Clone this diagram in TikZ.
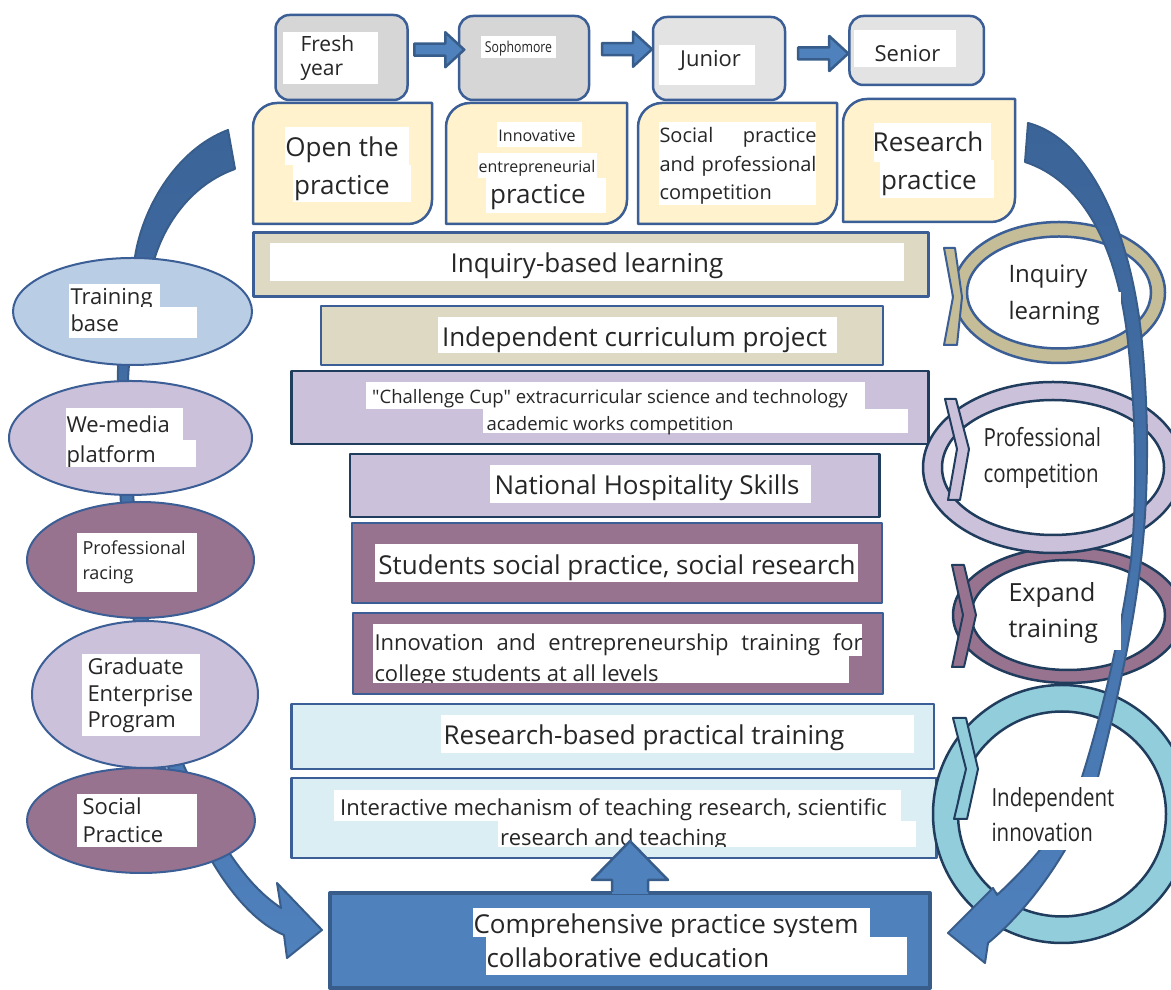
\documentclass[tikz,border=0pt]{standalone}
\usepackage{fontspec}
\setmainfont{Open Sans}
\newfontfamily\narrowsans[FakeStretch=0.82]{Open Sans}
\newfontfamily\plainsans{Open Sans}
\usepackage{xcolor}
\usetikzlibrary{shapes.geometric,calc}

\definecolor{ink}{HTML}{262626}
\definecolor{edgeblue}{HTML}{3A5E95}
\definecolor{navy}{HTML}{213D5E}
\definecolor{greyA}{HTML}{D6D6D6}
\definecolor{greyB}{HTML}{E3E3E3}
\definecolor{cream}{HTML}{FFF2CC}
\definecolor{khaki}{HTML}{DDD9C3}
\definecolor{khakiring}{HTML}{C4BD97}
\definecolor{lilac}{HTML}{CCC1DA}
\definecolor{mauve}{HTML}{98738F}
\definecolor{sky}{HTML}{B9CDE5}
\definecolor{pale}{HTML}{DAEEF3}
\definecolor{cyanring}{HTML}{92CDDC}
\definecolor{arrowfill}{HTML}{4F81BD}
\definecolor{arrowedge}{HTML}{385D8A}
\definecolor{banddark}{HTML}{3B6498}

\newcommand\txtsize[1]{\fontsize{#1bp}{#1bp}\selectfont}
\newcommand\dquote{{\plainsans"}}

\begin{document}
\begin{tikzpicture}[line join=round,
  yearbox/.style={draw=edgeblue, line width=2.5bp, rounded corners=14bp, inner sep=0pt},
  stage/.style={fill=cream, draw=edgeblue, line width=2.5bp},
  bar/.style={draw=edgeblue, line width=2.5bp, inner sep=0pt},
  darkbar/.style={bar, draw=navy},
  oval/.style={ellipse, draw=edgeblue, line width=2bp, inner sep=0pt},
  ring/.style={ellipse, draw=navy, line width=2.5bp, inner sep=0pt},
  chev/.style={draw=navy, line width=2bp},
  lbl/.style={inner sep=0pt, text=ink, anchor=base},
  lblw/.style={lbl, anchor=base west},
  blockarrow/.style={fill=arrowfill, draw=arrowedge, line width=2.5bp},
  band/.style={draw=arrowedge, line width=2bp, top color=banddark, bottom color=arrowfill}]
  \pgfsetlinewidth{1bp}
  \useasboundingbox (0bp,0bp) rectangle (1171bp,990bp);
  \clip (0bp,0bp) rectangle (1171bp,990bp);
%%
  % Edge: left return band, runs behind the ovals
  \path[band] (228bp,860bp) .. controls (175bp,840bp) and (142bp,780bp) .. (135bp,733bp)
    .. controls (128bp,690bp) and (117bp,650bp) .. (118bp,610bp)
    .. controls (118bp,540bp) and (116bp,390bp) .. (168bp,224bp)
    .. controls (185bp,175bp) and (200bp,145bp) .. (213bp,127bp)
    .. controls (235bp,90bp) and (260bp,65bp) .. (284bp,55bp)
    -- (287bp,32bp) -- (322bp,60bp) -- (277bp,107bp) -- (281bp,82bp)
    .. controls (262bp,95bp) and (248bp,110bp) .. (232bp,133bp)
    .. controls (215bp,160bp) and (195bp,200bp) .. (184bp,224bp)
    .. controls (140bp,340bp) and (128bp,530bp) .. (128bp,610bp)
    .. controls (130bp,660bp) and (145bp,700bp) .. (155bp,733bp)
    .. controls (165bp,765bp) and (190bp,805bp) .. (235bp,821bp)
    -- cycle;
  % Node: train
  \node[oval, fill=sky, minimum width=239bp, minimum height=107bp] (train) at (132.5bp,678.5bp) {};
  \fill[white] (69bp,706bp) rectangle (160bp,683bp);
  \node[lblw, font=\txtsize{22}] (train-l1) at (70bp,685bp) {Training};
  \fill[white] (69bp,683bp) rectangle (197bp,652bp);
  \node[lblw, font=\txtsize{22}] (train-l2) at (70bp,658bp) {base};
  % Node: media
  \node[oval, fill=lilac, minimum width=243bp, minimum height=114bp] (media) at (130.5bp,552bp) {};
  \fill[white] (66bp,582bp) rectangle (183bp,550bp);
  \node[lblw, font=\txtsize{22}] (media-l1) at (66bp,557bp) {We-media};
\begin{scope}
  \clip (66bp,550bp) rectangle (196bp,523bp);
  \fill[white] (66bp,550bp) rectangle (196bp,523bp);
  \node[lblw, font=\txtsize{22}] (media-l2) at (66bp,527bp) {platform};
\end{scope}
  % Node: racing
  \node[oval, fill=mauve, minimum width=227bp, minimum height=116bp] (racing) at (140.5bp,430bp) {};
  \fill[white] (77bp,457bp) rectangle (197bp,398bp);
  \node[lblw, font=\txtsize{18}] (racing-l1) at (82bp,435bp) {Professional};
  \node[lblw, font=\txtsize{18}] (racing-l2) at (82bp,410bp) {racing};
  % Node: grad
  \node[oval, fill=lilac, minimum width=226bp, minimum height=147bp] (grad) at (145bp,295.5bp) {};
  \fill[white] (82bp,336bp) rectangle (200bp,254bp);
  \node[lblw, font=\txtsize{22}] (grad-l1) at (87bp,315bp) {Graduate};
  \node[lblw, font=\txtsize{22}] (grad-l2) at (87bp,288bp) {Enterprise};
  \node[lblw, font=\txtsize{22}] (grad-l3) at (87bp,262bp) {Program};
  % Node: socprac
  \node[oval, fill=mauve, minimum width=228bp, minimum height=105bp] (socprac) at (141bp,169.5bp) {};
  \fill[white] (77bp,196bp) rectangle (197bp,143bp);
  \node[lblw, font=\txtsize{22}] (socprac-l1) at (82bp,175bp) {Social};
  \node[lblw, font=\txtsize{22}] (socprac-l2) at (82bp,147bp) {Practice};
%
  % Stage boxes under the years
  \filldraw[stage] (253bp,766bp) -- (253bp,863bp) arc[start angle=180,end angle=90,radius=24bp]
    -- (432bp,887bp) -- (432bp,790bp) arc[start angle=0,end angle=-90,radius=24bp] -- cycle;
  \filldraw[stage] (446bp,766bp) -- (446bp,863bp) arc[start angle=180,end angle=90,radius=24bp]
    -- (627bp,887bp) -- (627bp,790bp) arc[start angle=0,end angle=-90,radius=24bp] -- cycle;
  \filldraw[stage] (638bp,766bp) -- (638bp,863bp) arc[start angle=180,end angle=90,radius=24bp]
    -- (837bp,887bp) -- (837bp,790bp) arc[start angle=0,end angle=-90,radius=24bp] -- cycle;
  \filldraw[stage] (843bp,768bp) -- (843bp,867bp) arc[start angle=180,end angle=90,radius=24bp]
    -- (1015bp,891bp) -- (1015bp,792bp) arc[start angle=0,end angle=-90,radius=24bp] -- cycle;
  \fill[white] (285bp,863bp) rectangle (409bp,825bp);
  \node[lbl, font=\txtsize{26}] (open-l1) at (342bp,833bp) {Open the};
  \fill[white] (293bp,825bp) rectangle (411bp,788bp);
  \node[lbl, font=\txtsize{26}] (open-l2) at (342bp,795bp) {practice};
  \fill[white] (497bp,868bp) rectangle (582bp,843bp);
  \node[lbl, font=\txtsize{16}] (innov-l1) at (537bp,848bp) {Innovative};
  \fill[white] (478bp,837bp) rectangle (597bp,812bp);
  \node[lbl, font=\txtsize{16}] (innov-l2) at (537bp,817bp) {entrepreneurial};
  \fill[white] (486bp,812bp) rectangle (606bp,777bp);
  \node[lbl, font=\txtsize{26}] (innov-l3) at (538bp,786bp) {practice};
  \fill[white] (659bp,868bp) rectangle (816bp,785bp);
  \node[lblw, font=\txtsize{20}] (social-l1) at (659bp,847bp) {\makebox[157bp][s]{Social practice}};
  \node[lblw, font=\txtsize{20}] (social-l2) at (659bp,818bp) {\makebox[157bp][s]{and professional}};
  \node[lblw, font=\txtsize{20}] (social-l3) at (659bp,790bp) {competition};
  \fill[white] (874bp,867bp) rectangle (991bp,828bp);
  \node[lbl, font=\txtsize{26}] (research-l1) at (928bp,838bp) {Research};
  \fill[white] (880bp,830bp) rectangle (994bp,792bp);
  \node[lbl, font=\txtsize{26}] (research-l2) at (929bp,800bp) {practice};
%
  % Node: fresh, soph, junior, senior
  \node[yearbox, fill=greyA, minimum width=132bp, minimum height=85bp] (fresh) at (341.5bp,932.5bp) {};
  \node[yearbox, fill=greyA, minimum width=130bp, minimum height=84bp] (soph) at (524bp,932bp) {};
  \node[yearbox, fill=greyB, minimum width=132bp, minimum height=83bp] (junior) at (719bp,931.5bp) {};
  \node[yearbox, fill=greyB, minimum width=134.5bp, minimum height=69bp] (senior) at (916.7bp,939.5bp) {};
  \fill[white] (283bp,958bp) rectangle (378bp,906bp);
  \node[lblw, font=\txtsize{21}] (fresh-l1) at (300bp,938bp) {Fresh};
  \node[lblw, font=\txtsize{21}] (fresh-l2) at (300bp,914bp) {year};
  \fill[white] (481bp,954bp) rectangle (556bp,932bp);
  \node[lbl, font=\narrowsans\txtsize{15}] (soph-l) at (518.5bp,937bp) {Sophomore};
  \fill[white] (659bp,945bp) rectangle (755bp,905bp);
  \node[lbl, font=\txtsize{22}] (junior-l) at (710.5bp,923bp) {Junior};
  \fill[white] (854bp,960bp) rectangle (956bp,923bp);
  \node[lbl, font=\txtsize{22}] (senior-l) at (907.5bp,928bp) {Senior};
  % Edge: fresh -> soph -> junior -> senior
  \foreach \a/\b/\dy in {fresh/soph/8bp, soph/junior/9bp, junior/senior/1bp}
    \filldraw[blockarrow] ($(\a.east)!0.5!(\b.west)+(6bp,\dy)$) ++(-25bp,-6bp) -- ++(31bp,0)
      -- ++(0,-11.5bp) -- ++(19bp,17.5bp) -- ++(-19bp,17.5bp) -- ++(0,-11.5bp) -- ++(-31bp,0) -- cycle;
%
  % Node: inquirybar
  \node[bar, fill=khaki, minimum width=675bp, minimum height=64bp] (inquirybar) at (591bp,725.3bp) {};
  \fill[white] (270bp,747bp) rectangle (904bp,709bp);
  \node[lbl, font=\txtsize{26}] (inquirybar-l) at (587bp,717bp) {Inquiry-based learning};
  % Node: curricbar
  \node[bar, fill=khaki, minimum width=562bp, minimum height=59bp] (curricbar) at (602bp,654.5bp) {};
  \fill[white] (438bp,673bp) rectangle (837bp,637bp);
  \node[lbl, font=\txtsize{26}] (curricbar-l) at (634.5bp,643bp) {Independent curriculum project};
  % Node: cupbar
  \node[darkbar, fill=lilac, minimum width=637bp, minimum height=73bp] (cupbar) at (610bp,582.5bp) {};
  \fill[white] (366bp,608bp) rectangle (865bp,581bp);
  \node[lbl, font=\txtsize{18.5}] (cupbar-l1) at (610bp,586bp) {\dquote Challenge Cup\dquote{} extracurricular science and technology};
  \fill[white] (483bp,581bp) rectangle (908bp,557bp);
  \node[lbl, font=\txtsize{18.5}] (cupbar-l2) at (610bp,559bp) {academic works competition};
  % Node: hospbar
  \node[darkbar, fill=lilac, minimum width=529.5bp, minimum height=63bp] (hospbar) at (614.75bp,504.5bp) {};
  \fill[white] (490bp,525bp) rectangle (811bp,487bp);
  \node[lbl, font=\txtsize{26}] (hospbar-l) at (647bp,495bp) {National Hospitality Skills};
  % Node: fieldbar
  \node[bar, fill=mauve, minimum width=530bp, minimum height=80bp] (fieldbar) at (617bp,427bp) {};
  \fill[white] (375bp,446bp) rectangle (858bp,408bp);
  \node[lbl, font=\txtsize{26}] (fieldbar-l) at (617bp,415bp) {Students social practice, social research};
  % Node: startupbar
  \node[bar, fill=mauve, minimum width=530bp, minimum height=81bp] (startupbar) at (617.9bp,336.5bp) {};
  \fill[white] (373bp,366bp) rectangle (862bp,334bp);
  \node[lblw, font=\txtsize{22}] (startupbar-l1) at (374bp,339bp) {\makebox[488bp][s]{Innovation and entrepreneurship training for}};
\begin{scope}
  \clip (373bp,334bp) rectangle (849bp,307bp);
  \fill[white] (373bp,334bp) rectangle (849bp,307bp);
  \node[lblw, font=\txtsize{22}] (startupbar-l2) at (374bp,308bp) {college students at all levels};
\end{scope}
  % Node: trainbar
  \node[bar, fill=pale, minimum width=642.5bp, minimum height=65bp] (trainbar) at (612.75bp,253.5bp) {};
  \fill[white] (441bp,275bp) rectangle (914bp,237bp);
  \node[lbl, font=\txtsize{26}] (trainbar-l) at (644bp,245bp) {Research-based practical training};
  % Node: linkbar
  \node[bar, fill=pale, minimum width=645bp, minimum height=80bp] (linkbar) at (614bp,172bp) {};
  \fill[white] (334bp,200bp) rectangle (901bp,169bp);
  \node[lbl, font=\txtsize{22}] (linkbar-l1) at (613.5bp,174bp) {Interactive mechanism of teaching research, scientific};
\begin{scope}
  \clip (498bp,169bp) rectangle (916bp,143bp);
  \fill[white] (498bp,169bp) rectangle (916bp,143bp);
  \node[lbl, font=\txtsize{22}] (linkbar-l2) at (613.5bp,144bp) {research and teaching};
\end{scope}
  % Node: compbox
  \node[bar, fill=arrowfill, draw=arrowedge, line width=4bp, minimum width=600bp, minimum height=95bp] (compbox) at (630bp,49.5bp) {};
  \fill[white] (473bp,82bp) rectangle (870bp,53bp);
  \node[lblw, font=\txtsize{26}] (compbox-l1) at (473bp,56bp) {Comprehensive practice system};
  \fill[white] (486bp,53bp) rectangle (907bp,15bp);
  \node[lblw, font=\txtsize{26}] (compbox-l2) at (486bp,23bp) {collaborative education};
  % Edge: compbox -> linkbar
  \coordinate (upfoot) at (compbox.north);
  \fill[arrowfill] (upfoot) ++(-18bp,-3bp) -- ++(0,14bp) -- ++(-20bp,0) -- ++(38bp,39bp)
    -- ++(38bp,-39bp) -- ++(-20bp,0) -- ++(0,-14bp) -- cycle;
  \draw[arrowedge, line width=2.5bp] (upfoot) ++(-18bp,-1bp) -- ++(0,12bp) -- ++(-20bp,0)
    -- ++(38bp,39bp) -- ++(38bp,-39bp) -- ++(-20bp,0) -- ++(0,-12bp);
%
  % Node: innovring
  \node[ring, fill=cyanring, minimum width=258bp, minimum height=258bp] (innovring) at (1062bp,176bp) {};
  \node[ring, fill=white, minimum width=208bp, minimum height=205bp] (innovhole) at (innovring.center) {};
  \filldraw[chev, fill=cyanring] (953bp,272bp) -- (966bp,272bp) -- (978bp,221bp) -- (967bp,171bp)
    -- (954bp,171bp) -- (966bp,221bp) -- cycle;
  % Node: expandring
  \node[ring, fill=mauve, minimum width=230bp, minimum height=136bp] (expandring) at (1068bp,375bp) {};
  \node[ring, fill=white, minimum width=194bp, minimum height=110bp] (expandhole) at (expandring.center) {};
  \filldraw[chev, fill=mauve] (952bp,425bp) -- (964bp,425bp) -- (976bp,375bp) -- (964bp,323bp)
    -- (952bp,323bp) -- (963bp,375bp) -- cycle;
  % Node: contestring
  \node[ring, fill=lilac, minimum width=260bp, minimum height=171bp] (contestring) at (1053bp,522.5bp) {};
  \node[ring, fill=white, minimum width=222bp, minimum height=135bp] (contesthole) at (contestring.center) {};
  \filldraw[chev, fill=lilac] (945bp,591bp) -- (956bp,591bp) -- (969bp,541bp) -- (960bp,490bp)
    -- (948bp,490bp) -- (957bp,541bp) -- cycle;
  % Node: inquiryring
  \node[ring, draw=edgeblue, fill=khakiring, minimum width=212bp, minimum height=141bp] (inquiryring) at (1059bp,697.5bp) {};
  \node[ring, draw=edgeblue, fill=white, minimum width=184bp, minimum height=112bp] (inquiryhole) at (inquiryring.center) {};
  \filldraw[chev, draw=edgeblue, fill=khakiring] (944bp,742bp) -- (955bp,742bp) -- (962bp,693bp) -- (957bp,645bp)
    -- (944bp,645bp) -- (953bp,693bp) -- cycle;
  % Edge: right return band, over the rings
  \path[band] (1028bp,867bp) .. controls (1092bp,850bp) and (1130bp,755bp) .. (1141bp,657bp)
    .. controls (1150bp,570bp) and (1148bp,490bp) .. (1141bp,430bp)
    .. controls (1132bp,350bp) and (1112bp,270bp) .. (1098bp,213bp)
    .. controls (1082bp,160bp) and (1040bp,90bp) .. (988bp,47bp)
    -- (985bp,27bp) -- (948bp,57bp) -- (993bp,102bp) -- (997bp,95bp)
    .. controls (1035bp,130bp) and (1068bp,170bp) .. (1082bp,213bp)
    .. controls (1100bp,270bp) and (1120bp,350bp) .. (1131bp,430bp)
    .. controls (1137bp,490bp) and (1137bp,570bp) .. (1127bp,657bp)
    .. controls (1115bp,750bp) and (1080bp,810bp) .. (1025bp,828bp)
    -- cycle;
  \node[lblw, font=\txtsize{24}] (inquiryring-l1) at (1008bp,707bp) {Inquiry};
  \fill[white] (1005bp,698bp) rectangle (1121bp,660bp);
  \node[lblw, font=\txtsize{24}] (inquiryring-l2) at (1008bp,670bp) {learning};
  \node[lblw, font=\narrowsans\txtsize{25}] (contestring-l1) at (983bp,543bp) {Professional};
  \node[lblw, font=\narrowsans\txtsize{25}] (contestring-l2) at (983bp,507bp) {competition};
  \node[lblw, font=\txtsize{25}] (expandring-l1) at (1008bp,388bp) {Expand};
  \fill[white] (1003bp,378bp) rectangle (1121bp,340bp);
  \node[lblw, font=\txtsize{25}] (expandring-l2) at (1008bp,352bp) {training};
  \fill[white] (990bp,213bp) rectangle (1118bp,140bp);
  \node[lblw, font=\narrowsans\txtsize{25}] (innovring-l1) at (991bp,183bp) {Independent};
  \node[lblw, font=\narrowsans\txtsize{25}] (innovring-l2) at (991bp,148bp) {innovation};
%
\end{tikzpicture}
\end{document}
